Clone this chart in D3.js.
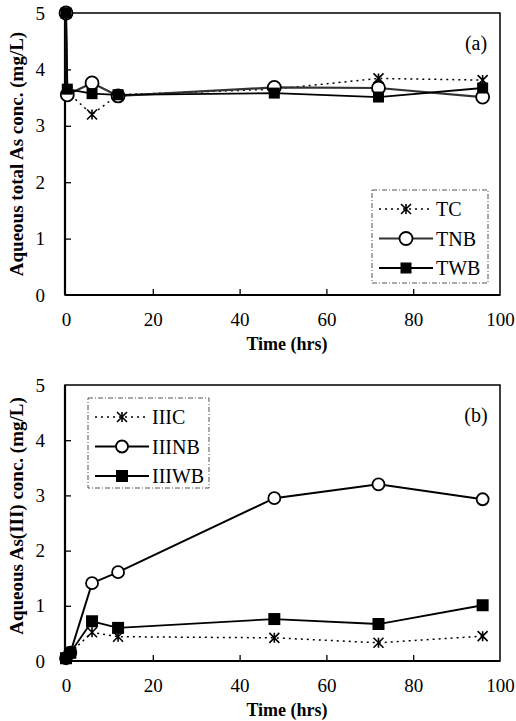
<!DOCTYPE html>
<html>
<head>
<meta charset="utf-8">
<script src="https://cdn.jsdelivr.net/npm/d3@7"></script>
<style>
  body { margin: 0; background: #fff; }
  svg text { font-family: "Liberation Serif", "DejaVu Serif", serif; }
</style>
</head>
<body>
<svg width="516" height="721"></svg>
<script>
// Dois painéis: As total (a) e As(III) (b) ao longo do tempo

// --- dados (a) ---
const temposA = [0, 0.3, 6, 12, 48, 72, 96];
const tc  = [5, 3.6, 3.2, 3.55, 3.65, 3.84, 3.81];
const tnb = [5, 3.55, 3.76, 3.53, 3.68, 3.67, 3.51];
const twb = [5, 3.65, 3.57, 3.55, 3.58, 3.51, 3.67];

// --- dados (b) ---
const temposB = [0, 1, 6, 12, 48, 72, 96];
const iiic  = [0.05, 0.15, 0.52, 0.44, 0.42, 0.33, 0.45];
const iiinb = [0.05, 0.15, 1.41, 1.61, 2.95, 3.2, 2.93];
const iiiwb = [0.05, 0.15, 0.72, 0.6, 0.76, 0.67, 1.01];

const xTicks = [0, 20, 40, 60, 80, 100];
const yTicks = [0, 1, 2, 3, 4, 5];

const svg = d3.select("svg");
const left = 66, right = 500;
const FONTE = '"Liberation Serif", "DejaVu Serif", serif';

// --- marcadores ---
function marcador(g, tipo, cx, cy, s) {
  if (tipo === "star") {
    const r = s / 2;
    g.append("path")
      .attr("d", `M${cx - r},${cy - r}L${cx + r},${cy + r}M${cx + r},${cy - r}L${cx - r},${cy + r}M${cx},${cy - r}L${cx},${cy + r}`)
      .attr("stroke", "#000").attr("stroke-width", 1.6).attr("fill", "none");
  } else if (tipo === "circle") {
    g.append("circle")
      .attr("cx", cx).attr("cy", cy).attr("r", s / 2)
      .attr("fill", "#fff").attr("stroke", "#000").attr("stroke-width", 1.8);
  } else {
    g.append("rect")
      .attr("x", cx - s / 2).attr("y", cy - s / 2)
      .attr("width", s).attr("height", s)
      .attr("fill", "#000");
  }
}

function painel(cfg) {
  const x = d3.scaleLinear().domain([0, 100]).range([left, right]);
  const y = d3.scaleLinear().domain([0, 5]).range([cfg.bottom, cfg.top]);
  const g = svg.append("g");

  // moldura
  g.append("rect")
    .attr("x", x(0) - 1).attr("y", y(5))
    .attr("width", x(100) - x(0) + 1).attr("height", y(0) - y(5))
    .attr("fill", "none").attr("stroke", "#000").attr("stroke-width", 1.5);
  g.append("line")
    .attr("x1", x(0) - 1).attr("x2", x(0) - 1).attr("y1", y(5)).attr("y2", y(0))
    .attr("stroke", "#000").attr("stroke-width", 2.2);
  g.append("line")
    .attr("x1", x(0) - 1).attr("x2", x(100)).attr("y1", y(0)).attr("y2", y(0))
    .attr("stroke", "#000").attr("stroke-width", 2.2);

  // eixos (ticks para dentro)
  const ax = g.append("g")
    .attr("transform", `translate(0,${y(0)})`)
    .call(d3.axisBottom(x).tickValues(xTicks).tickSize(-6).tickPadding(18).tickFormat(d3.format("d")));
  ax.attr("font-family", FONTE).attr("font-size", 19);
  ax.select(".domain").remove();
  ax.selectAll(".tick line").attr("stroke-width", 1.3).filter(d => d === 0 || d === 100).remove();
  ax.selectAll("text").attr("fill", "#000");

  const ay = g.append("g")
    .attr("transform", `translate(${x(0) - 1},0)`)
    .call(d3.axisLeft(y).tickValues(yTicks).tickSize(-6).tickPadding(20).tickFormat(d3.format("d")));
  ay.attr("font-family", FONTE).attr("font-size", 19);
  ay.select(".domain").remove();
  ay.selectAll(".tick line").attr("stroke-width", 1.3).filter(d => d === 0 || d === 5).remove();
  ay.selectAll("text").attr("fill", "#000");

  // títulos
  g.append("text")
    .attr("x", (x(0) + x(100)) / 2 + 4).attr("y", y(0) + 55)
    .attr("text-anchor", "middle")
    .style("font-size", "18px").style("font-weight", 700)
    .text("Time (hrs)");

  g.append("text")
    .attr("transform", `translate(23,${cfg.titleY}) rotate(-90)`)
    .attr("text-anchor", "middle")
    .style("font-size", "19px").style("font-weight", 700)
    .text(cfg.yTitle);

  g.append("text")
    .attr("x", 476).attr("y", y(5) + 37)
    .attr("text-anchor", "middle")
    .style("font-size", "20px")
    .text(cfg.tag);

  // séries
  const line = d3.line().x(d => x(d.t)).y(d => y(d.v));
  for (const s of cfg.series) {
    const pts = s.values.map((v, i) => ({ t: cfg.tempos[i], v }));
    g.append("path")
      .datum(pts)
      .attr("fill", "none")
      .attr("stroke", s.cor)
      .attr("stroke-width", s.largura)
      .attr("stroke-dasharray", s.dash)
      .attr("d", line);
    pts.forEach(p => marcador(g, s.tipo, x(p.t), y(p.v), s.size));
  }

  // legenda
  const L = cfg.legenda;
  const lg = g.append("g");
  lg.append("rect")
    .attr("x", L.x).attr("y", L.y).attr("width", L.w).attr("height", L.h)
    .attr("fill", "#fff").attr("stroke", "#555").attr("stroke-width", 1)
    .attr("stroke-dasharray", "5,2,1,2");
  cfg.series.forEach((s, i) => {
    const ry = L.y + 19 + i * 29.5;
    lg.append("line")
      .attr("x1", L.x + 7).attr("x2", L.x + 61).attr("y1", ry).attr("y2", ry)
      .attr("stroke", s.cor).attr("stroke-width", s.largura)
      .attr("stroke-dasharray", s.dash);
    marcador(lg, s.tipo, L.x + 34, ry, s.size);
    lg.append("text")
      .attr("x", L.x + 64).attr("y", ry + 7)
      .style("font-size", "20px")
      .text(s.nome);
  });
}

painel({
  top: 13, bottom: 295, tag: "(a)", titleY: 154,
  yTitle: "Aqueous total As conc. (mg/L)",
  tempos: temposA,
  legenda: { x: 372, y: 190, w: 116, h: 93 },
  series: [
    { nome: "TC",  values: tc,  tipo: "star",   size: 10, cor: "#000", largura: 1.5, dash: "2,4" },
    { nome: "TNB", values: tnb, tipo: "circle", size: 13, cor: "#333", largura: 2.2, dash: null },
    { nome: "TWB", values: twb, tipo: "square", size: 11, cor: "#000", largura: 1.8, dash: null }
  ]
});

painel({
  top: 385, bottom: 661, tag: "(b)", titleY: 516,
  yTitle: "Aqueous As(III) conc. (mg/L)",
  tempos: temposB,
  legenda: { x: 88, y: 398, w: 121, h: 90 },
  series: [
    { nome: "IIIC",  values: iiic,  tipo: "star",   size: 10, cor: "#000", largura: 1.5, dash: "2,4" },
    { nome: "IIINB", values: iiinb, tipo: "circle", size: 12, cor: "#000", largura: 2, dash: null },
    { nome: "IIIWB", values: iiiwb, tipo: "square", size: 12, cor: "#000", largura: 1.8, dash: null }
  ]
});
</script>
</body>
</html>
